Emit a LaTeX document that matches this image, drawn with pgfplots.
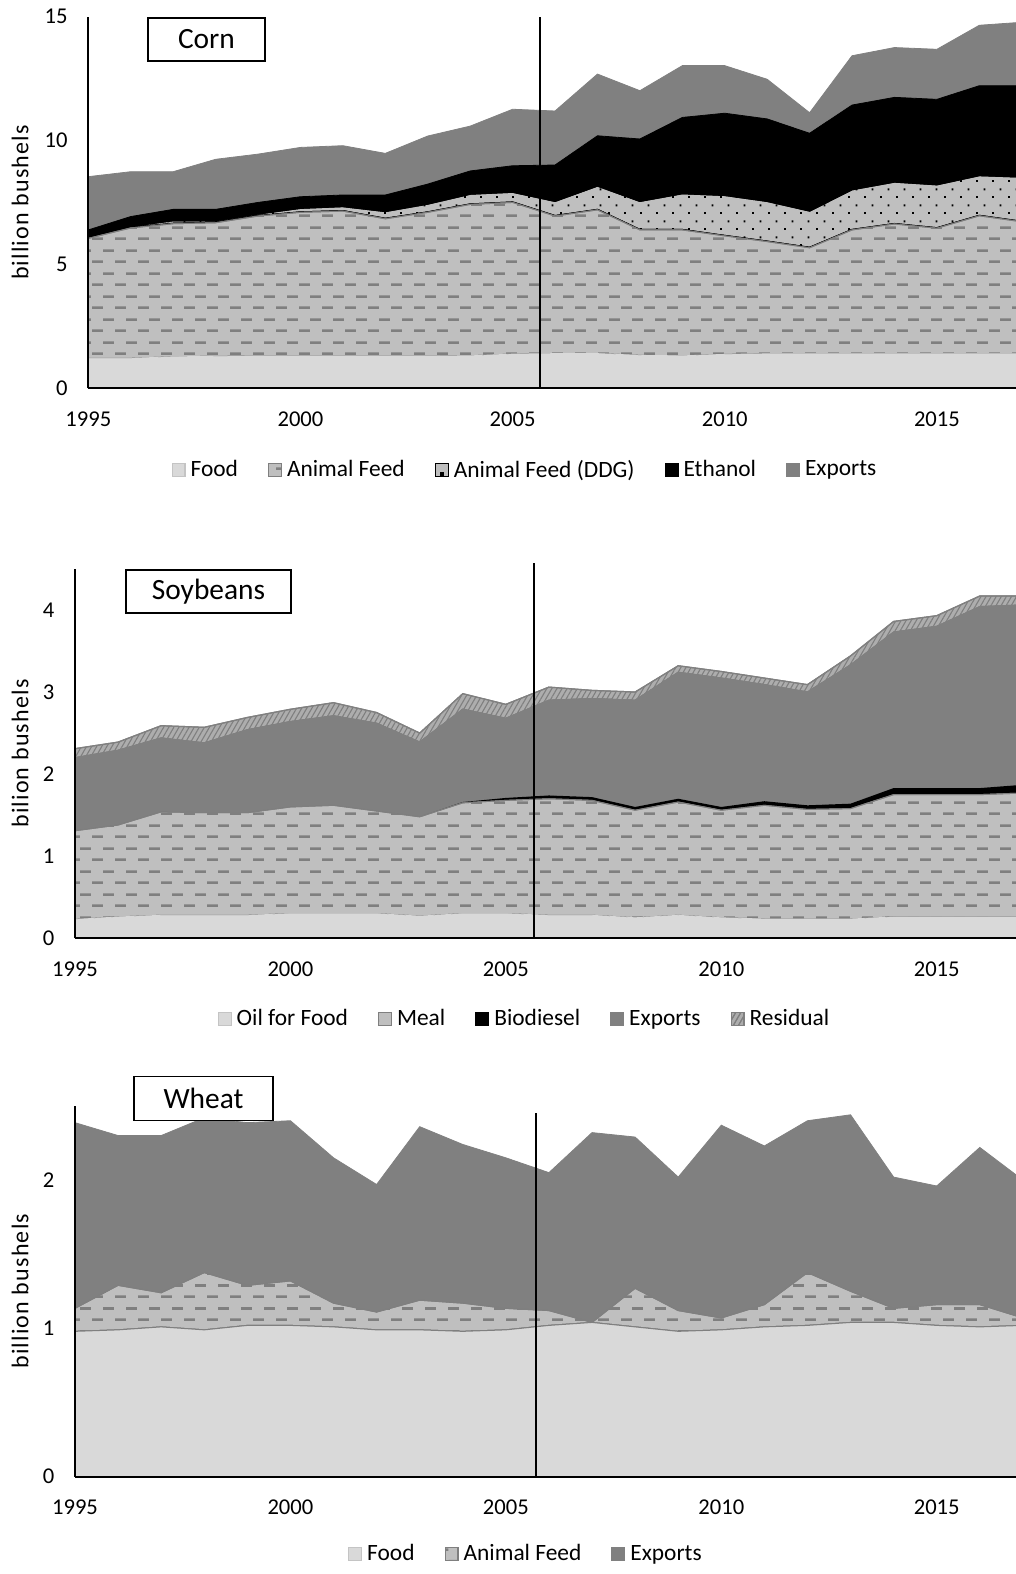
\documentclass[border=0pt]{standalone}
\usepackage{fontspec}
\setmainfont{Carlito}
\usepackage{pgfplots}
\usepackage{pgfplotstable}
\pgfplotsset{compat=1.18}
\usetikzlibrary{patterns.meta}

\definecolor{foodc}{HTML}{D9D9D9}
\definecolor{foodedge}{HTML}{C4C4C4}
\definecolor{feedc}{HTML}{BFBFBF}
\definecolor{dashc}{HTML}{7F7F7F}
\definecolor{expc}{HTML}{808080}
\definecolor{resc}{HTML}{ADADAD}

\pgfdeclarepattern{
  name=hdash, type=uncolored,
  bottom left={\pgfpoint{0pt}{0pt}},
  top right={\pgfpoint{11.5pt}{11.5pt}},
  tile size={\pgfpoint{11.5pt}{11.5pt}},
  code={
    \pgfpathrectangle{\pgfpoint{0pt}{0pt}}{\pgfpoint{5.7pt}{1.35pt}}
    \pgfpathrectangle{\pgfpoint{5.75pt}{5.75pt}}{\pgfpoint{5.7pt}{1.35pt}}
    \pgfusepath{fill}
  }
}
\pgfdeclarepattern{
  name=ddots, type=uncolored,
  bottom left={\pgfpoint{0pt}{0pt}},
  top right={\pgfpoint{8pt}{8pt}},
  tile size={\pgfpoint{8pt}{8pt}},
  code={
    \pgfpathrectangle{\pgfpoint{0pt}{0pt}}{\pgfpoint{1pt}{1pt}}
    \pgfpathrectangle{\pgfpoint{4pt}{4pt}}{\pgfpoint{1pt}{1pt}}
    \pgfusepath{fill}
  }
}

\pgfplotstableread{
year food feed ddg eth exp
1995 1.21 4.84 0.00 0.34 2.15
1996 1.21 5.26 0.08 0.38 1.81
1997 1.27 5.37 0.14 0.44 1.52
1998 1.29 5.39 0.10 0.44 2.02
1999 1.30 5.65 0.10 0.45 1.95
2000 1.30 5.80 0.18 0.45 1.99
2001 1.30 5.85 0.20 0.45 1.99
2002 1.30 5.54 0.31 0.65 1.68
2003 1.30 5.80 0.35 0.79 1.94
2004 1.31 6.11 0.43 0.92 1.81
2005 1.38 6.12 0.43 1.05 2.28
2006 1.40 5.55 0.61 1.45 2.18
2007 1.40 5.80 0.98 2.01 2.49
2008 1.33 5.06 1.17 2.50 1.95
2009 1.31 5.08 1.48 3.06 2.09
2010 1.37 4.78 1.65 3.30 1.92
2011 1.39 4.53 1.64 3.31 1.60
2012 1.39 4.28 1.50 3.12 0.83
2013 1.39 5.00 1.64 3.40 1.99
2014 1.39 5.24 1.71 3.40 2.01
2015 1.39 5.07 1.77 3.43 2.02
2016 1.39 5.57 1.64 3.61 2.44
2017 1.39 5.33 1.82 3.67 2.56
}\corn

\pgfplotstableread{
year oil meal bio exp res
1995 0.23 1.08 0.00 0.89 0.11
1996 0.26 1.12 0.00 0.91 0.10
1997 0.28 1.26 0.00 0.90 0.15
1998 0.28 1.25 0.00 0.85 0.19
1999 0.28 1.25 0.00 1.01 0.15
2000 0.30 1.30 0.00 1.04 0.15
2001 0.30 1.32 0.00 1.09 0.16
2002 0.30 1.25 0.00 1.07 0.13
2003 0.27 1.21 0.00 0.91 0.11
2004 0.30 1.35 0.01 1.13 0.19
2005 0.30 1.38 0.03 0.97 0.17
2006 0.28 1.42 0.04 1.16 0.16
2007 0.28 1.40 0.04 1.20 0.10
2008 0.25 1.31 0.04 1.30 0.10
2009 0.28 1.38 0.04 1.54 0.08
2010 0.25 1.31 0.04 1.57 0.08
2011 0.235 1.385 0.05 1.42 0.08
2012 0.235 1.335 0.05 1.38 0.09
2013 0.235 1.345 0.06 1.69 0.11
2014 0.26 1.49 0.08 1.90 0.13
2015 0.26 1.49 0.08 1.97 0.13
2016 0.26 1.49 0.08 2.21 0.13
2017 0.26 1.51 0.10 2.19 0.11
}\soy

\pgfplotstableread{
year food feed exp
1995 0.98 0.155 1.252
1996 0.99 0.30 1.01
1997 1.01 0.23 1.06
1998 0.99 0.386 1.044
1999 1.02 0.27 1.097
2000 1.02 0.30 1.08
2001 1.01 0.16 0.98
2002 0.99 0.12 0.86
2003 0.99 0.20 1.17
2004 0.98 0.19 1.07
2005 0.99 0.145 1.015
2006 1.02 0.10 0.93
2007 1.04 0.00 1.28
2008 1.01 0.26 1.02
2009 0.98 0.14 0.90
2010 0.99 0.08 1.30
2011 1.01 0.15 1.07
2012 1.02 0.356 1.024
2013 1.04 0.21 1.19
2014 1.04 0.095 0.885
2015 1.02 0.14 0.80
2016 1.01 0.15 1.06
2017 1.02 0.05 0.93
}\wheat

\pgfplotsset{
  legsq/.style 2 args={legend image code/.code={\draw[line width=0.6pt, fill=#1, draw=#2] (0pt,-3.2pt) rectangle (6.4pt,3.2pt);}},
  panel/.style={
    scale only axis,
    axis on top,
    stack plots=y,
    area style,
    enlargelimits=false,
    axis x line*=bottom, axis y line*=left,
    axis line style={-, line width=1pt, black},
    major tick length=0pt,
    xmin=1995, ymin=0,
    xtick={1995,2000,2005,2010,2015},
    /pgf/number format/1000 sep={},
    /pgf/number format/assume math mode=true,
    tick label style={font=\fontsize{11.3}{13}\selectfont, black},
    xticklabel style={yshift=-8.2pt},
    yticklabel style={xshift=-6.8pt},
    label style={font=\fontsize{12}{14}\selectfont\addfontfeature{LetterSpace=5}},
    legend style={draw=none, fill=none, legend columns=-1, anchor=center,
      font=\fontsize{11.7}{14}\selectfont,
      /tikz/every odd column/.append style={column sep=0.5pt},
      /tikz/every even column/.append style={column sep=13pt}},
  },
  feedstyle/.style={fill=feedc, draw=dashc, line width=0.5pt, postaction={pattern=hdash, pattern color=dashc}, legsq={feedc}{dashc}},
}

\begin{document}
\begin{tikzpicture}
\useasboundingbox (0,0) rectangle (508pt,787pt);

% ---------------- Corn ----------------
\begin{axis}[panel, at={(44.15pt,592.85pt)}, anchor=south west,
  width=463.85pt, height=185.85pt, xmax=2016.864, ymax=15,
  ytick={0,5,10,15},
  ylabel={billion bushels},
  ylabel style={at={(axis description cs:-0.0736,0.5)}, anchor=center},
  legend style={at={(0.4718,-0.2198)}}]
\addplot[fill=foodc, draw=foodc, legsq={foodc}{foodedge}] table[x=year,y=food] {\corn} \closedcycle;
\addlegendentry{Food}
\addplot[feedstyle] table[x=year,y=feed] {\corn} \closedcycle;
\addlegendentry{Animal Feed}
\addplot[fill=feedc, draw=black, line width=1pt, postaction={pattern=ddots, pattern color=black},
  legend image code/.code={\draw[line width=0.6pt, fill=feedc, draw=black] (0pt,-3.2pt) rectangle (6.4pt,3.2pt); \fill[black] (2.7pt,-2.3pt) rectangle (3.7pt,-1.3pt);}]
  table[x=year,y=ddg] {\corn} \closedcycle;
\addlegendentry{Animal Feed (DDG)}
\addplot[fill=black, draw=black, legsq={black}{black}] table[x=year,y=eth] {\corn} \closedcycle;
\addlegendentry{Ethanol}
\addplot[fill=expc, draw=expc, legsq={expc}{expc}] table[x=year,y=exp] {\corn} \closedcycle;
\addlegendentry{Exports}
\coordinate (cb) at (axis cs:2005.65,0);
\coordinate (ct) at (axis cs:2005.65,15);
\end{axis}
\draw[black, line width=1pt] (cb) -- (ct);

% ---------------- Soybeans ----------------
\begin{axis}[panel, at={(37.5pt,317.85pt)}, anchor=south west,
  width=470.5pt, height=184.7pt, xmax=2016.84, ymax=4.5,
  ytick={0,1,2,3,4},
  ylabel={bilion bushels},
  ylabel style={at={(axis description cs:-0.0584,0.5)}, anchor=center},
  legend style={at={(0.4787,-0.2185)}}]
\addplot[fill=foodc, draw=foodc, legsq={foodc}{foodedge}] table[x=year,y=oil] {\soy} \closedcycle;
\addlegendentry{Oil for Food}
\addplot[feedstyle] table[x=year,y=meal] {\soy} \closedcycle;
\addlegendentry{Meal}
\addplot[fill=black, draw=none, legsq={black}{black}] table[x=year,y=bio] {\soy} \closedcycle;
\addlegendentry{Biodiesel}
\addplot[fill=expc, draw=expc, line width=0.4pt, legsq={expc}{expc}] table[x=year,y=exp] {\soy} \closedcycle;
\addlegendentry{Exports}
\addplot[fill=resc, draw=expc, line width=0.6pt, postaction={pattern={Lines[angle=60,distance=2.2pt,line width=0.55pt]}, pattern color=dashc},
  legend image code/.code={\draw[line width=0.6pt, fill=resc, draw=expc, postaction={pattern={Lines[angle=60,distance=2.2pt,line width=0.55pt]}, pattern color=dashc}] (0pt,-3.2pt) rectangle (6.4pt,3.2pt);}]
  table[x=year,y=res] {\soy} \closedcycle;
\addlegendentry{Residual}
\coordinate (sb) at (axis cs:2005.65,0);
\coordinate (st) at (axis cs:2005.65,4.5);
\end{axis}
\draw[black, line width=1pt] (sb) -- ([yshift=3pt]st);

% ---------------- Wheat ----------------
\begin{axis}[panel, at={(37.5pt,48.65pt)}, anchor=south west,
  width=470.5pt, height=185.4pt, xmax=2016.84, ymax=2.5,
  ytick={0,1,2},
  ylabel={billion bushels},
  ylabel style={at={(axis description cs:-0.0584,0.5)}, anchor=center},
  legend style={at={(0.4803,-0.2085)}}]
\addplot[fill=foodc, draw=dashc, line width=0.5pt, legsq={foodc}{foodedge}] table[x=year,y=food] {\wheat} \closedcycle;
\addlegendentry{Food}
\addplot[feedstyle] table[x=year,y=feed] {\wheat} \closedcycle;
\addlegendentry{Animal Feed}
\addplot[fill=expc, draw=expc, legsq={expc}{expc}] table[x=year,y=exp] {\wheat} \closedcycle;
\addlegendentry{Exports}
\coordinate (wb) at (axis cs:2005.7,0);
\coordinate (wt) at (axis cs:2005.7,2.45);
\end{axis}
\draw[black, line width=1pt] (wb) -- (wt);

% title boxes
\node[draw=black, line width=0.9pt, fill=white, minimum width=58.5pt, minimum height=21.5pt, inner sep=0pt, font=\fontsize{14.7}{17}\selectfont] at (103.25pt,767.25pt) {Corn};
\node[draw=black, line width=0.9pt, fill=white, minimum width=82.5pt, minimum height=21.5pt, inner sep=0pt, font=\fontsize{14.7}{17}\selectfont] at (104.25pt,491.25pt) {Soybeans};
\node[draw=black, line width=0.9pt, fill=white, minimum width=69.5pt, minimum height=22pt, inner sep=0pt, font=\fontsize{14.7}{17}\selectfont] at (101.75pt,237.75pt) {Wheat};
\end{tikzpicture}
\end{document}
